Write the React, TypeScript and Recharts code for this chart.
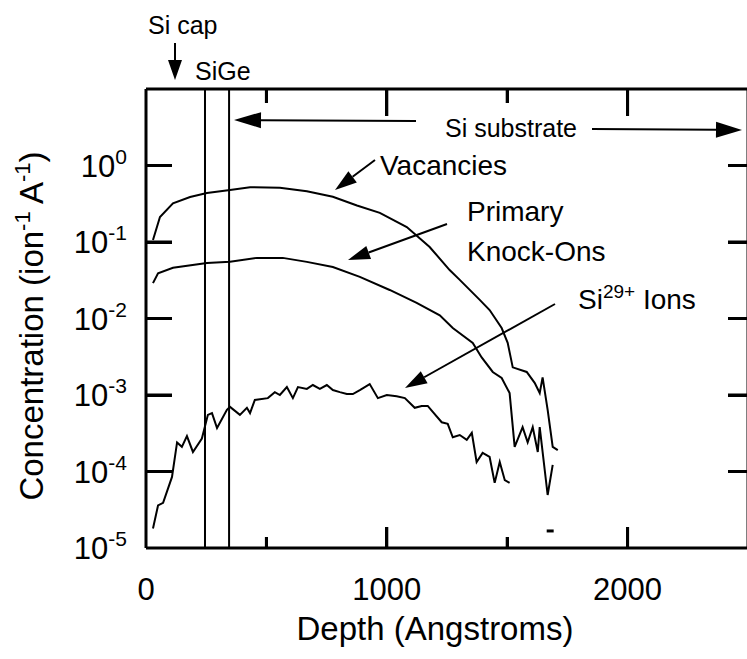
import { LineChart, Line, XAxis, YAxis, ReferenceLine } from 'recharts';

const FONT = '"Liberation Sans", Arial, Helvetica, sans-serif';

// depth (Angstroms), concentration (ion^-1 A^-1)
const vacancies: [number, number][] = [
  [29, 0.106], [58, 0.212], [112, 0.32], [183, 0.387], [253, 0.436], [349, 0.48],
  [432, 0.52], [556, 0.51], [668, 0.46], [776, 0.39], [876, 0.3], [971, 0.24],
  [1083, 0.157], [1178, 0.086], [1261, 0.043], [1303, 0.032], [1386, 0.0175],
  [1427, 0.0129], [1477, 0.0075], [1502, 0.0048], [1523, 0.0023], [1581, 0.002],
  [1614, 0.00144], [1635, 0.00106], [1647, 0.0017], [1668, 0.00064], [1689, 0.00021],
  [1710, 0.00019],
];

const knockOns: [number, number][] = [
  [29, 0.029], [50, 0.039], [112, 0.046], [253, 0.053], [349, 0.055], [461, 0.062],
  [568, 0.062], [668, 0.055], [776, 0.047], [888, 0.035], [1012, 0.0236], [1124, 0.016],
  [1220, 0.011], [1274, 0.0075], [1357, 0.0048], [1394, 0.0031], [1440, 0.002],
  [1477, 0.00167], [1510, 0.00106], [1531, 0.00021], [1564, 0.00038], [1585, 0.00024],
  [1606, 0.00038], [1627, 0.00018], [1635, 0.00038], [1668, 0.0000493], [1689, 0.000122],
];

const siIons: [number, number][] = [
  [29, 1.8e-5], [50, 3.6e-5], [71, 3.9e-5], [108, 8.5e-5], [129, 2.4e-4], [149, 2.1e-4],
  [170, 2.9e-4], [195, 1.8e-4], [232, 2.7e-4], [257, 5.5e-4], [274, 5.8e-4], [295, 3.7e-4],
  [336, 6.4e-4], [349, 7.0e-4], [390, 5.5e-4], [419, 6.8e-4], [432, 5.8e-4], [452, 8.6e-4],
  [506, 9.1e-4], [535, 1.09e-3], [556, 1.0e-3], [585, 1.27e-3], [610, 9.1e-4], [631, 1.27e-3],
  [668, 1.2e-3], [693, 1.35e-3], [722, 1.2e-3], [751, 1.35e-3], [776, 1.16e-3], [805, 1.09e-3],
  [834, 1.03e-3], [859, 1.03e-3], [888, 1.16e-3], [929, 1.39e-3], [963, 9.1e-4], [1000, 1.0e-3],
  [1041, 9.6e-4], [1075, 9.1e-4], [1116, 6.8e-4], [1145, 7.2e-4], [1170, 7.2e-4], [1191, 6.0e-4],
  [1228, 4.4e-4], [1253, 4.2e-4], [1274, 2.8e-4], [1303, 3.0e-4], [1332, 2.6e-4], [1353, 3.2e-4],
  [1373, 1.33e-4], [1398, 1.75e-4], [1427, 1.55e-4], [1448, 7.1e-5], [1469, 1.33e-4],
  [1490, 7.7e-5], [1510, 7.1e-5],
];

// stray mark near the bottom of the plot
const strayMark: [number, number][] = [[1664, 1.67e-5], [1693, 1.67e-5]];

const depthLabelTicks = [0, 1000, 2000];
const majorDepthTicks = [1000, 2000];
const minorDepthTicks = [500, 1500];
const decadeTicks = [1e-5, 1e-4, 1e-3, 1e-2, 1e-1, 1];
const layerEdges = [245, 345];

const D_MIN = 0;
const D_MAX = 2500;
const C_MIN = 1e-5;
const C_MAX = 10;

// plot box (matches chart margins / axis sizes below)
const PLOT = { left: 146, top: 89, width: 602, height: 459 };
const xPx = (d: number) => PLOT.left + ((d - D_MIN) / (D_MAX - D_MIN)) * PLOT.width;
const yPx = (v: number) =>
  PLOT.top + ((Math.log10(C_MAX) - Math.log10(v)) / (Math.log10(C_MAX) - Math.log10(C_MIN))) * PLOT.height;

const pts = (a: [number, number][]) => a.map(([d, v]) => ({ d, v }));

const AXIS_LINE = { stroke: '#000', strokeWidth: 3 };

const DecadeLabel = (p: any) => {
  const exp = Math.round(Math.log10(p.payload.value));
  return (
    <text x={p.x} y={p.y + 11} textAnchor="end" fontSize={31} fontFamily={FONT} fill="#000">
      10<tspan dy={-13} fontSize={21}>{exp}</tspan>
    </text>
  );
};

const DepthLabel = (p: any) => (
  <text x={p.x} y={p.y} textAnchor="middle" fontSize={31} fontFamily={FONT} fill="#000">
    {p.payload.value}
  </text>
);

function Arrow({ x1, y1, x2, y2, head = 22, half = 7 }: { x1: number; y1: number; x2: number; y2: number; head?: number; half?: number }) {
  const dx = x2 - x1;
  const dy = y2 - y1;
  const len = Math.hypot(dx, dy);
  const ux = dx / len;
  const uy = dy / len;
  const bx = x2 - ux * head;
  const by = y2 - uy * head;
  const px = -uy * half;
  const py = ux * half;
  return (
    <g>
      <line x1={x1} y1={y1} x2={bx} y2={by} stroke="#000" strokeWidth={2} />
      <polygon points={`${x2},${y2} ${bx + px},${by + py} ${bx - px},${by - py}`} fill="#000" />
    </g>
  );
}

type Box = { left: number; top: number; width: number; height: number };

// inward tick marks of the frame, as boxes in page px
function tickBoxes(): Box[] {
  const bottom = PLOT.top + PLOT.height;
  const right = PLOT.left + PLOT.width;
  const out: Box[] = [];
  decadeTicks.slice(1).forEach((v) => {
    out.push({ left: PLOT.left, top: yPx(v) - 1.5, width: 26, height: 3 });
    out.push({ left: right - 20, top: yPx(v) - 1.5, width: 20, height: 3 });
  });
  majorDepthTicks.forEach((d) => {
    out.push({ left: xPx(d) - 1.5, top: bottom - 21, width: 3, height: 21 });
    out.push({ left: xPx(d) - 1.5, top: PLOT.top, width: 3, height: 27 });
  });
  minorDepthTicks.forEach((d) => {
    out.push({ left: xPx(d) - 1.5, top: bottom - 11, width: 3, height: 11 });
    out.push({ left: xPx(d) - 1.5, top: PLOT.top, width: 3, height: 14 });
  });
  return out;
}

export default function App() {
  const txt = { fontFamily: FONT, fill: '#000' };
  const depthAxis = { type: 'number' as const, dataKey: 'd', domain: [D_MIN, D_MAX], allowDataOverflow: true, interval: 0 as const };
  const concAxis = { type: 'number' as const, scale: 'log' as const, domain: [C_MIN, C_MAX], allowDataOverflow: true, interval: 0 as const, ticks: decadeTicks };
  const boxes = tickBoxes();

  return (
    <div style={{ position: 'absolute', left: 0, top: 0, width: 747, height: 659, overflow: 'hidden', background: '#fff' }}>
      <LineChart width={752} height={659} margin={{ top: 88, right: 0, bottom: 51, left: 0 }}>
        <XAxis {...depthAxis} ticks={depthLabelTicks} height={60} tickSize={0} tickMargin={52} tickLine={false} tick={DepthLabel} axisLine={AXIS_LINE} />
        <XAxis {...depthAxis} xAxisId="top" orientation="top" height={1} tickLine={false} tick={false} axisLine={AXIS_LINE} />
        <YAxis {...concAxis} dataKey="v" width={146} tickSize={0} tickMargin={19} tickLine={false} tick={DecadeLabel} axisLine={AXIS_LINE} />
        <YAxis {...concAxis} yAxisId="right" orientation="right" width={4} tickLine={false} tick={false} axisLine={AXIS_LINE} />
        {layerEdges.map((e) => (
          <ReferenceLine key={e} x={e} stroke="#000" strokeWidth={2} />
        ))}
        <Line data={pts(vacancies)} dataKey="v" type="linear" stroke="#000" strokeWidth={2} dot={false} isAnimationActive={false} />
        <Line data={pts(knockOns)} dataKey="v" type="linear" stroke="#000" strokeWidth={2} dot={false} isAnimationActive={false} />
        <Line data={pts(siIons)} dataKey="v" type="linear" stroke="#000" strokeWidth={2} dot={false} isAnimationActive={false} />
        <Line data={pts(strayMark)} dataKey="v" type="linear" stroke="#000" strokeWidth={3} dot={false} isAnimationActive={false} />
      </LineChart>
      <svg width={747} height={659} style={{ position: 'absolute', left: 0, top: 0, pointerEvents: 'none' }}>
        <path
          d={boxes.map((b) => `M${b.left} ${b.top}h${b.width}v${b.height}h${-b.width}Z`).join('')}
          fill="#000"
        />
        <text transform="translate(43,326) rotate(-90)" textAnchor="middle" fontSize={33} {...txt}>
          Concentration (ion<tspan dy={-13} fontSize={22}>-1</tspan>
          <tspan dy={13}> A</tspan>
          <tspan dy={-13} fontSize={22}>-1</tspan>
          <tspan dy={13}>)</tspan>
        </text>
        <text x={435} y={640} textAnchor="middle" fontSize={33} {...txt}>Depth (Angstroms)</text>

        <text x={148} y={34} fontSize={25} {...txt}>Si cap</text>
        <Arrow x1={175} y1={43} x2={175} y2={80} head={20} half={7} />
        <text x={195} y={80} fontSize={25} {...txt}>SiGe</text>

        <Arrow x1={416} y1={121} x2={234} y2={120} head={27} half={8} />
        <text x={445} y={137} fontSize={25} {...txt}>Si substrate</text>
        <Arrow x1={592} y1={129} x2={742} y2={130} head={26} half={8} />

        <text x={380} y={175} fontSize={28} {...txt}>Vacancies</text>
        <Arrow x1={375} y1={160} x2={335} y2={190} />
        <text x={467} y={221} fontSize={28} {...txt}>Primary</text>
        <text x={467} y={261} fontSize={28} {...txt}>Knock-Ons</text>
        <Arrow x1={447} y1={224} x2={348} y2={260} />
        <text x={578} y={309} fontSize={28} {...txt}>
          Si<tspan dy={-11} fontSize={19}>29+</tspan>
          <tspan dy={11}> Ions</tspan>
        </text>
        <Arrow x1={555} y1={304} x2={405} y2={388} />
      </svg>
      {boxes.map((b, i) => (
        <div key={i} style={{ position: 'absolute', left: b.left, top: b.top, width: b.width, height: b.height, background: '#000' }} />
      ))}
    </div>
  );
}
